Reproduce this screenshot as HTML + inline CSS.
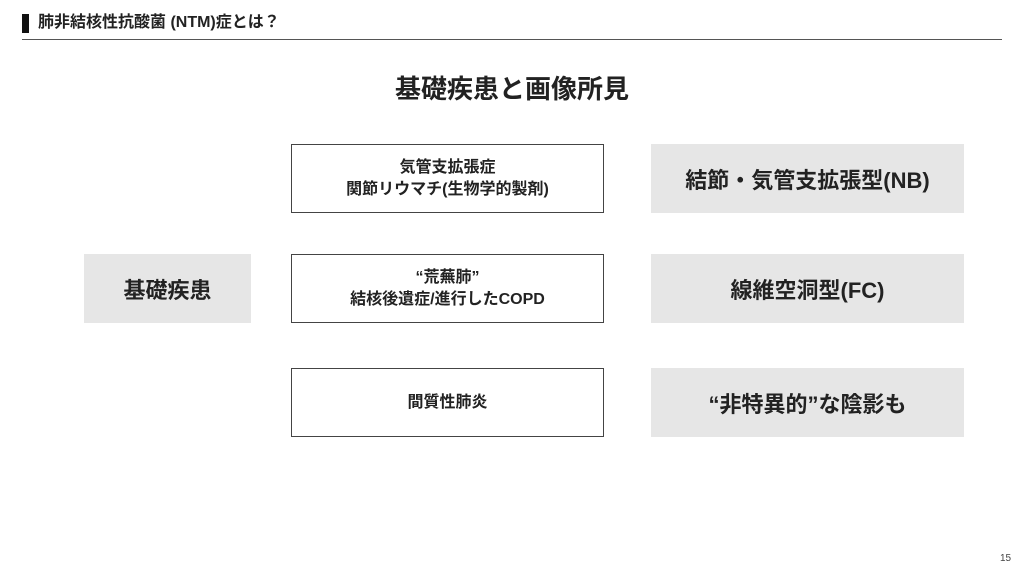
<!DOCTYPE html>
<html><head><meta charset="utf-8"><style>
body{margin:0;width:1024px;height:576px;background:#fff;position:relative;overflow:hidden;font-family:"Liberation Sans","Noto Sans CJK JP",sans-serif;color:#222;}
.a{position:absolute;}
.box{position:absolute;display:flex;align-items:center;justify-content:center;text-align:center;font-weight:bold;box-sizing:border-box;}
.w{border:1px solid #444;background:#fff;font-size:16px;line-height:22px;left:291px;width:313px;height:69px;}
.g{background:#e6e6e6;font-size:22px;}
.r{left:651px;width:313px;height:69px;}
</style></head><body>
<div class="a" style="left:22px;top:14px;width:7px;height:19px;background:#111"></div>
<div class="a" style="left:38px;top:12px;font-size:16px;font-weight:bold;line-height:22px">肺非結核性抗酸菌 (NTM)症とは？</div>
<div class="a" style="left:22px;top:39px;width:980px;height:1px;background:#555"></div>
<div class="a" style="left:0;width:1024px;top:72px;text-align:center;font-size:26px;font-weight:bold;line-height:34px">基礎疾患と画像所見</div>
<div class="box w" style="top:144px">気管支拡張症<br>関節リウマチ(生物学的製剤)</div>
<div class="box w" style="top:254px">“荒蕪肺”<br>結核後遺症/進行したCOPD</div>
<div class="box w" style="top:368px">間質性肺炎</div>
<div class="box g" style="left:84px;top:254px;width:167px;height:69px">基礎疾患</div>
<div class="box g r" style="top:144px">結節・気管支拡張型(NB)</div>
<div class="box g r" style="top:254px">線維空洞型(FC)</div>
<div class="box g r" style="top:368px">“非特異的”な陰影も</div>
<div class="a" style="left:1000px;top:553px;font-size:10px;color:#444">15</div>
</body></html>
